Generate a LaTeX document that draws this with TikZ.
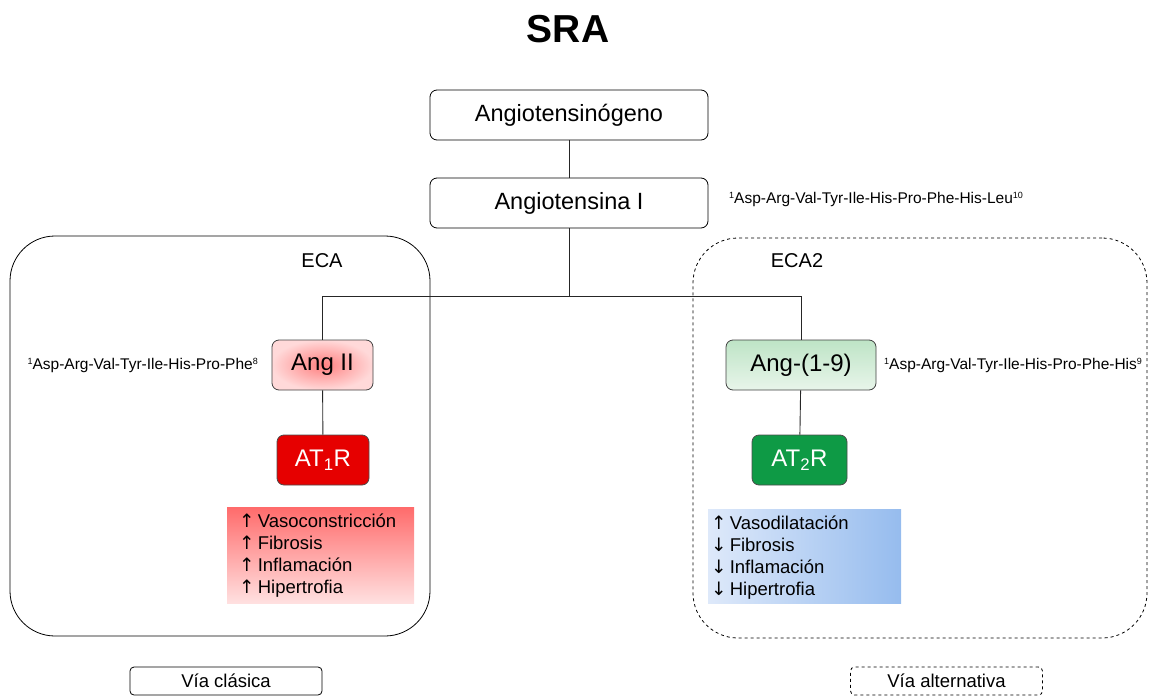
\documentclass[tikz,border=0pt]{standalone}
\usepackage{fontspec}
\setmainfont{Liberation Sans}
\newfontfamily\arrowfont{DejaVu Sans}
\newcommand{\up}{{\arrowfont\char"2191}}
\newcommand{\dn}{{\arrowfont\char"2193}}
\newcommand{\sups}[1]{\raisebox{0.55ex}{\fontsize{9}{9}\selectfont #1}}
\definecolor{atred}{HTML}{E60000}
\definecolor{atgreen}{HTML}{0E9A45}
\definecolor{bluelight}{RGB}{222,233,250}
\definecolor{bluedark}{RGB}{150,188,238}
\definecolor{greenA}{RGB}{190,228,198}
\definecolor{greenB}{RGB}{232,245,234}
\tikzset{
  stepbox/.style={draw, rounded corners=7pt, line width=0.8pt, minimum width=278pt, minimum height=50pt, inner sep=0pt, font=\fontsize{23.5}{26}\selectfont},
  angbox/.style={draw=black!75, rounded corners=7pt, line width=0.8pt, minimum height=50pt, inner sep=0pt, font=\fontsize{24}{26}\selectfont},
  recbox/.style={draw=black!70, rounded corners=7pt, line width=0.8pt, minimum height=50pt, inner sep=0pt, text=white, font=\fontsize{24}{26}\selectfont},
  pept/.style={inner sep=0pt, font=\fontsize{15.5}{17}\selectfont},
  region/.style={draw, rounded corners=45pt, line width=0.8pt, minimum width=#1, minimum height=400pt, inner sep=0pt},
  efftext/.style={inner sep=0pt, align=left, font=\fontsize{18.5}{22}\selectfont},
  lbl/.style={inner sep=0pt, font=\fontsize{20}{22}\selectfont},
  viabox/.style={draw, rounded corners=4pt, line width=0.8pt, minimum width=192pt, minimum height=28pt, inner sep=0pt, font=\fontsize{18.5}{20}\selectfont},
  link/.style={line width=0.9pt, black!85}
}
\begin{document}
\begin{tikzpicture}[x=1pt, y=-1pt]
\useasboundingbox (0,0) rectangle (1154,696);
\node[font=\bfseries\fontsize{39}{42}\selectfont] (title) at (568,29) {SRA};

% regions
\node[region=420pt] (eca) at (220,436) {};
\node[region=454pt, dashed] (eca2) at (920,438) {};
\node[lbl] (ecalbl) at (322,261) {ECA};
\node[lbl] (eca2lbl) at (797,261) {ECA2};

% top chain
\node[stepbox] (agt) at (569,115) {Angiotensinógeno};
\node[stepbox] (ang1) at (569,203) {Angiotensina I};
\node[pept, anchor=west] (p1) at (729,199) {\sups{1}Asp-Arg-Val-Tyr-Ile-His-Pro-Phe-His-Leu\sups{10}};

% Ang II branch
\node[angbox, minimum width=101pt, inner color=red!50, outer color=red!15] (ang2) at (322.5,365) {Ang II};
\node[pept, anchor=east] (p2) at (258,365) {\sups{1}Asp-Arg-Val-Tyr-Ile-His-Pro-Phe\sups{8}};
\node[recbox, minimum width=92pt, fill=atred] (at1) at (323,460) {AT\textsubscript{1}R};
\node[inner sep=0pt, minimum width=187pt, minimum height=96pt, top color=red!58, bottom color=red!12] (eff1) at (320.5,555) {};
\node[efftext, anchor=north west] (eff1t) at (239,514) {\up\,Vasoconstricción\\ \up\,Fibrosis\\ \up\,Inflamación\\ \up\,Hipertrofia};

% Ang-(1-9) branch
\node[angbox, minimum width=150pt, top color=greenA, bottom color=greenB] (ang19) at (801,365) {Ang-(1-9)};
\node[pept, anchor=west] (p3) at (884,365) {\sups{1}Asp-Arg-Val-Tyr-Ile-His-Pro-Phe-His\sups{9}};
\node[recbox, minimum width=95pt, fill=atgreen] (at2) at (799.5,460) {AT\textsubscript{2}R};
\node[inner sep=0pt, minimum width=193pt, minimum height=94pt, left color=bluelight, right color=bluedark] (eff2) at (804.5,556) {};
\node[efftext, anchor=north west] (eff2t) at (711,516) {\up\,Vasodilatación\\ \dn\,Fibrosis\\ \dn\,Inflamación\\ \dn\,Hipertrofia};

% connectors
\coordinate (jc) at (569,296);
\draw[link] (agt) -- (ang1);
\draw[link] (ang1) -- (jc);
\draw[link] (ang2.north) |- (jc);
\draw[link] (ang19.north) |- (jc);
\draw[link] (ang2) -- (at1);
\draw[link] (ang19) -- (at2);

% legend
\node[viabox] (via1) at (226,681) {Vía clásica};
\node[viabox, dashed] (via2) at (946.5,681) {Vía alternativa};
\end{tikzpicture}
\end{document}
